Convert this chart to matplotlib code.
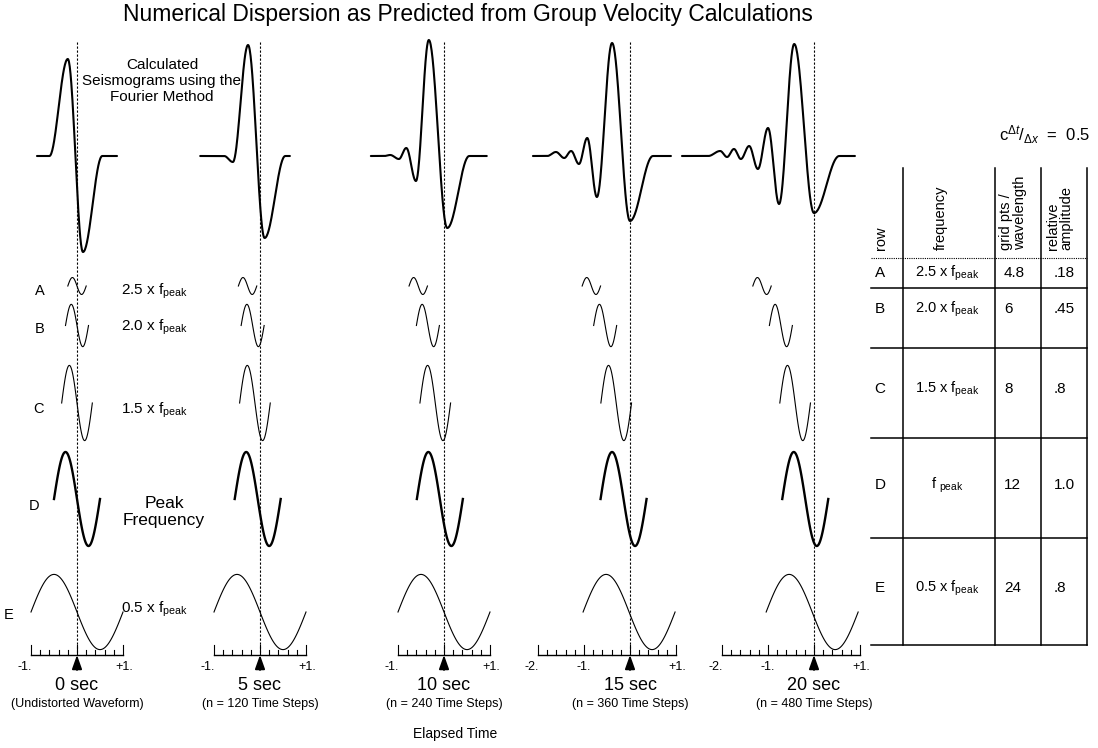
import matplotlib.pyplot as plt
import numpy as np

plt.rcParams['font.family'] = ['Liberation Sans', 'DejaVu Sans']
plt.rcParams['mathtext.fontset'] = 'custom'
plt.rcParams['mathtext.rm'] = 'Liberation Sans'
plt.rcParams['mathtext.it'] = 'Liberation Sans:italic'
plt.rcParams['mathtext.bf'] = 'Liberation Sans:bold'

# ---- data ----
elapsed = ['0 sec', '5 sec', '10 sec', '15 sec', '20 sec']
steps = ['(Undistorted Waveform)', '(n = 120 Time Steps)', '(n = 240 Time Steps)',
         '(n = 360 Time Steps)', '(n = 480 Time Steps)']
scale_lo = [-1, -1, -1, -2, -2]
scale_hi = [1, 1, 1, 1, 1]

rows = ['A', 'B', 'C', 'D', 'E']
freq_mult = [2.5, 2.0, 1.5, 1.0, 0.5]          # x f_peak  (f_peak = 1 Hz)
freq_text = [r'2.5 x f$_{\mathrm{peak}}$', r'2.0 x f$_{\mathrm{peak}}$',
             r'1.5 x f$_{\mathrm{peak}}$', r'f ${}_{\mathrm{peak}}$',
             r'0.5 x f$_{\mathrm{peak}}$']
grid_pts = ['4.8', '6', '8', '12', '24']
rel_amp_text = ['.18', '.45', '.8', '1.0', '.8']
rel_amp = [0.18, 0.45, 0.8, 1.0, 0.8]

# arrival shift (s) of each component A..E, per elapsed time
shift_0s = [0.0, 0.0, 0.0, 0.0, 0.0]
shift_5s = [-0.27, -0.16, -0.11, -0.05, 0.0]
shift_10s = [-0.56, -0.35, -0.19, -0.09, 0.0]
shift_15s = [-0.84, -0.54, -0.30, -0.14, -0.02]
shift_20s = [-1.13, -0.72, -0.41, -0.19, -0.04]
shifts = [shift_0s, shift_5s, shift_10s, shift_15s, shift_20s]

# seismogram turning points (time s, amplitude) per elapsed time
seis_t_0s = [-0.87, -0.6, -0.2, 0.13, 0.55, 0.87]
seis_a_0s = [0, 0, 0.97, -0.96, 0, 0]
seis_t_5s = [-1.3, -0.78, -0.59, -0.26, 0.1, 0.55, 0.65]
seis_a_5s = [0, 0, -0.06, 1.11, -0.82, 0, 0]
seis_t_10s = [-1.59, -1.3, -1.17, -0.98, -0.82, -0.61, -0.33, 0.07, 0.55, 0.93]
seis_a_10s = [0, 0, 0.01, -0.03, 0.08, -0.25, 1.16, -0.72, 0, 0]
seis_t_15s = [-2.11, -1.8, -1.61, -1.43, -1.28, -1.11, -0.93, -0.72, -0.39, 0.0, 0.5, 0.89]
seis_a_15s = [0, 0, 0.04, -0.02, 0.05, -0.08, 0.18, -0.41, 1.13, -0.65, 0, 0]
seis_t_20s = [-2.87, -2.3, -2.04, -1.89, -1.74, -1.59, -1.41, -1.22, -1.0, -0.76, -0.43, 0.0, 0.55, 0.89]
seis_a_20s = [0, 0, 0.05, -0.01, 0.07, -0.03, 0.10, -0.13, 0.28, -0.48, 1.12, -0.57, 0, 0]
seis_t = [seis_t_0s, seis_t_5s, seis_t_10s, seis_t_15s, seis_t_20s]
seis_a = [seis_a_0s, seis_a_5s, seis_a_10s, seis_a_15s, seis_a_20s]

# ---- layout (pixels) ----
W, H = 1098, 748
PX_PER_S = 46
col_zero = [77, 260, 444, 630, 814]
row_y = [286, 325.5, 403, 499, 612]
ROW_AMP = 47
SEIS_Y = 156
SEIS_AMP = 100
BAR_Y = 655


def smooth_path(ts, amps, n=40):
    xs, ys = [], []
    for i in range(len(ts) - 1):
        s = np.linspace(0, 1, n)
        xs.append(ts[i] + (ts[i + 1] - ts[i]) * s)
        ys.append(amps[i] + (amps[i + 1] - amps[i]) * (1 - np.cos(np.pi * s)) / 2)
    return np.concatenate(xs), np.concatenate(ys)


fig = plt.figure(figsize=(W / 100, H / 100), dpi=100)
lay = fig.add_axes([0, 0, 1, 1])
lay.set_xlim(0, W)
lay.set_ylim(H, 0)
lay.axis('off')

for c in range(5):
    t_lo, t_hi = -3.0, 1.6
    left = col_zero[c] + t_lo * PX_PER_S
    ax = fig.add_axes([left / W, 0, (t_hi - t_lo) * PX_PER_S / W, 1])
    ax.set_xlim(t_lo, t_hi)
    ax.set_ylim(H, 0)
    ax.axis('off')
    ax.patch.set_alpha(0)

    # seismogram
    x, y = smooth_path(seis_t[c], seis_a[c])
    ax.plot(x, SEIS_Y - SEIS_AMP * y, color='k', lw=1.5, solid_capstyle='round')

    # single frequency components
    for r in range(5):
        f = freq_mult[r]
        t = np.linspace(-0.5 / f, 0.5 / f, 120)
        yy = -rel_amp[r] * np.sin(2 * np.pi * f * t)
        ax.plot(t + shifts[c][r], row_y[r] - ROW_AMP * yy, color='k',
                lw=1.7 if rows[r] == 'D' else 0.8)

    # reference line
    ax.plot([0, 0], [42, BAR_Y], color='k', lw=0.8, ls=(0, (2, 1.6)))

    # time scale
    lo, hi = scale_lo[c], scale_hi[c]
    ax.plot([lo, hi], [BAR_Y, BAR_Y], color='k', lw=1.0)
    for tk in np.arange(lo, hi + 0.01, 0.2):
        major = abs(tk - round(tk)) < 1e-6
        ax.plot([tk, tk], [BAR_Y, BAR_Y - (10 if major else 5)], color='k', lw=0.8)
    for v in range(lo, hi + 1):
        if v == 0:
            continue
        lab = '+%d.' % v if v > 0 else '%d.' % v
        dx = -0.14 if v == lo else (0.03 if v == hi else 0)
        ax.text(v + dx, 667, lab, ha='center', va='center', fontsize=9)
    ax.annotate('', xy=(0, BAR_Y), xytext=(0, 670),
                arrowprops=dict(arrowstyle='-|>,head_length=0.7,head_width=0.25',
                                color='k', lw=1.3, shrinkA=0, shrinkB=0, mutation_scale=12))
    ax.text(0, 686, elapsed[c], ha='center', va='center', fontsize=13)
    ax.text(0, 704, steps[c], ha='center', va='center', fontsize=9)

# ---- labels ----
lay.text(468, 14, 'Numerical Dispersion as Predicted from Group Velocity Calculations',
         ha='center', va='center', fontsize=16.5)
lay.text(162, 81, 'Calculated\nSeismograms using the\nFourier Method',
         ha='center', va='center', fontsize=11, linespacing=1.15)
lay.text(455, 734, 'Elapsed Time', ha='center', va='center', fontsize=10)

row_label_x = [40, 40, 38, 34, 9]
row_label_y = [291, 329, 409, 506, 615]
for r in range(5):
    lay.text(row_label_x[r], row_label_y[r], rows[r], ha='center', va='center', fontsize=10.5)
for r, yy in [(0, 291), (1, 327), (2, 410), (4, 609)]:
    lay.text(121, yy, freq_text[r], ha='left', va='center', fontsize=11)
lay.text(164, 512, 'Peak\nFrequency', ha='center', va='center', fontsize=12.5, linespacing=1.1)

lay.text(1090, 135, r'c$^{\Delta t}$/$_{\Delta x}$  =  0.5', ha='right', va='center', fontsize=12)

# ---- table ----
tab_left, tab_right = 871, 1087
vlines = [903, 995, 1041, 1087]
hlines = [258, 288, 348, 438, 538, 645]
for xv in vlines:
    lay.plot([xv, xv], [168, 645], color='k', lw=1.1)
lay.plot([tab_left, tab_right], [hlines[0], hlines[0]], color='k', lw=0.8, ls=(0, (1, 1)))
for yh in hlines[1:]:
    lay.plot([tab_left, tab_right], [yh, yh], color='k', lw=1.1)

lay.text(881, 250, 'row', rotation=90, ha='center', va='bottom', fontsize=10.5)
lay.text(941, 250, 'frequency', rotation=90, ha='center', va='bottom', fontsize=10.5)
lay.text(1013, 250, 'grid pts /\nwavelength', rotation=90, ha='center', va='bottom',
         fontsize=10.5, multialignment='left', linespacing=0.95)
lay.text(1060, 250, 'relative\namplitude', rotation=90, ha='center', va='bottom',
         fontsize=10.5, multialignment='left', linespacing=0.95)

cell_y = [273, 309, 389, 485, 588]
for r in range(5):
    lay.text(880, cell_y[r], rows[r], ha='center', va='center', fontsize=11)
    lay.text(947, cell_y[r], freq_text[r], ha='center', va='center', fontsize=10.5)
    lay.text(1004, cell_y[r], grid_pts[r], ha='left', va='center', fontsize=11)
    lay.text(1054, cell_y[r], rel_amp_text[r], ha='left', va='center', fontsize=11)

fig.savefig('out.png', dpi=100)
